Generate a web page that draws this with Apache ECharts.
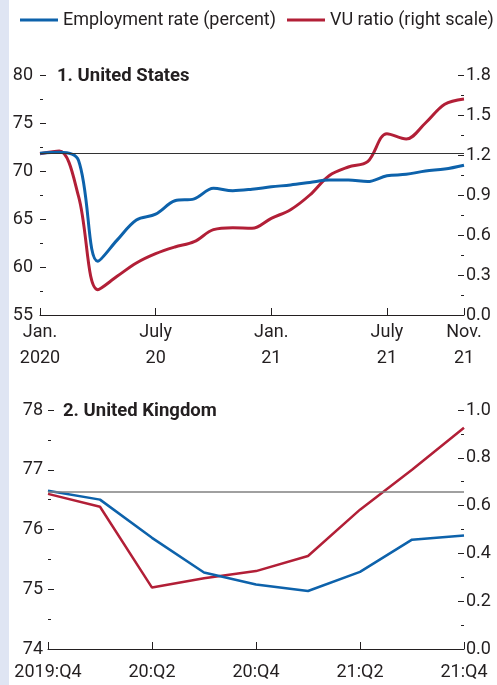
<!DOCTYPE html>
<html>
<head>
<meta charset="utf-8">
<script src="https://cdn.jsdelivr.net/npm/echarts@6/dist/echarts.min.js"></script>
<style>
  html, body { margin: 0; padding: 0; background: #fff; }
  #chart { width: 497px; height: 685px; }
</style>
</head>
<body>
<div id="chart"></div>
<script>
// US, monthly
var usMonths = ['Jan.\n2020', 'Feb.', 'Mar.', 'Apr.', 'May', 'June', 'July\n20', 'Aug.', 'Sep.', 'Oct.', 'Nov.', 'Dec.',
    'Jan.\n21', 'Feb.', 'Mar.', 'Apr.', 'May', 'June', 'July\n21', 'Aug.', 'Sep.', 'Oct.', 'Nov.\n21'];
var usTickIdx = [0, 6, 12, 18, 22];
var usEmployment = [71.85, 71.95, 71.1, 60.6, 62.8, 64.9, 65.5, 66.9, 67.1, 68.2, 67.95, 68.1,
    68.35, 68.55, 68.8, 69.05, 69.05, 68.9, 69.5, 69.65, 70.0, 70.2, 70.6];
var usVU = [1.21, 1.23, 0.89, 0.19, 0.29, 0.39, 0.46, 0.51, 0.55, 0.64, 0.655, 0.65,
    0.725, 0.79, 0.9, 1.045, 1.11, 1.15, 1.36, 1.32, 1.44, 1.58, 1.62];
var usPreCrisis = 71.9;

// UK, quarterly
var ukQuarters = ['2019:Q4', '20:Q1', '20:Q2', '20:Q3', '20:Q4', '21:Q1', '21:Q2', '21:Q3', '21:Q4'];
var ukTickIdx = [0, 2, 4, 6, 8];
var ukEmployment = [76.65, 76.5, 75.86, 75.28, 75.08, 74.97, 75.29, 75.83, 75.9];
var ukVU = [0.649, 0.595, 0.257, 0.296, 0.326, 0.389, 0.583, 0.75, 0.926];
var ukPreCrisis = 76.64;

var EMP = 'Employment rate (percent)';
var VU = 'VU ratio (right scale)';
var BLUE = '#0d62ab';
var RED = '#b21f37';
var INK = '#231f20';
var FONT = "Roboto, 'Liberation Sans', sans-serif";

function xAxisFor(gridIndex, data, ticks, labelMargin, lineHeight) {
    var pick = function (idx) { return ticks.indexOf(idx) >= 0; };
    return {
        type: 'category',
        gridIndex: gridIndex,
        data: data,
        boundaryGap: false,
        axisLine: { lineStyle: { color: INK, width: 1 } },
        axisTick: { inside: true, length: 7, interval: pick, lineStyle: { color: INK } },
        axisLabel: {
            interval: pick, margin: labelMargin, color: INK, fontFamily: FONT, fontSize: 18,
            lineHeight: lineHeight, align: 'center'
        },
        splitLine: { show: false }
    };
}

function yAxisFor(gridIndex, pos, min, max, interval, digits, margin) {
    return {
        type: 'value',
        gridIndex: gridIndex,
        position: pos,
        min: min,
        max: max,
        interval: interval,
        axisLine: { show: false },
        axisTick: { show: true, inside: true, length: 6, lineStyle: { color: INK } },
        minorTick: { show: true, splitNumber: 2, length: 3, lineStyle: { color: INK } },
        splitLine: { show: false },
        axisLabel: {
            margin: margin, color: INK, fontFamily: FONT, fontSize: 18,
            formatter: function (v) { return v.toFixed(digits); }
        }
    };
}

function legendAt(left, name) {
    return {
        left: left,
        top: 11,
        padding: 0,
        itemWidth: 38,
        itemHeight: 3,
        icon: 'rect',
        textStyle: { color: INK, fontFamily: FONT, fontSize: 18 },
        data: [name]
    };
}

var chart = echarts.init(document.getElementById('chart'), null, { renderer: 'canvas' });

var option = {
    animation: false,
    backgroundColor: '#fff',
    graphic: [{
        type: 'rect', left: 0, top: 0, shape: { width: 9, height: 685 },
        style: { fill: '#dfe5f3' }, silent: true
    }],
    legend: [legendAt(20, EMP), legendAt(287, VU)],
    title: [
        { text: '1. United States', left: 57, top: 67, padding: 0,
          textStyle: { color: INK, fontFamily: FONT, fontSize: 18.5, fontWeight: 'bold' } },
        { text: '2. United Kingdom', left: 63, top: 402, padding: 0,
          textStyle: { color: INK, fontFamily: FONT, fontSize: 18.5, fontWeight: 'bold' } }
    ],
    grid: [
        { left: 40, right: 33, top: 75, height: 240 },
        { left: 48, right: 33, top: 410, height: 239 }
    ],
    xAxis: [
        xAxisFor(0, usMonths, usTickIdx, 4, 26),
        xAxisFor(1, ukQuarters, ukTickIdx, 13, 20)
    ],
    yAxis: [
        yAxisFor(0, 'left', 55, 80, 5, 0, 7),
        yAxisFor(0, 'right', 0, 1.8, 0.3, 1, 2),
        yAxisFor(1, 'left', 74, 78, 1, 0, 5),
        yAxisFor(1, 'right', 0, 1.0, 0.2, 1, 2)
    ],
    series: [
        {
            name: EMP, type: 'line', xAxisIndex: 0, yAxisIndex: 0,
            data: usEmployment, smooth: 0.35, symbol: 'none',
            lineStyle: { color: BLUE, width: 3 }, itemStyle: { color: BLUE }, z: 3,
            markLine: {
                silent: true, symbol: 'none', label: { show: false },
                lineStyle: { color: '#333', width: 1, type: 'solid' },
                data: [{ yAxis: usPreCrisis }]
            }
        },
        {
            name: VU, type: 'line', xAxisIndex: 0, yAxisIndex: 1,
            data: usVU, smooth: 0.35, symbol: 'none',
            lineStyle: { color: RED, width: 3 }, itemStyle: { color: RED }, z: 2
        },
        {
            name: EMP, type: 'line', xAxisIndex: 1, yAxisIndex: 2,
            data: ukEmployment, symbol: 'none',
            lineStyle: { color: BLUE, width: 2.5 }, itemStyle: { color: BLUE }, z: 3,
            markLine: {
                silent: true, symbol: 'none', label: { show: false },
                lineStyle: { color: '#808080', width: 1.5, type: 'solid' },
                data: [{ yAxis: ukPreCrisis }]
            }
        },
        {
            name: VU, type: 'line', xAxisIndex: 1, yAxisIndex: 3,
            data: ukVU, symbol: 'none',
            lineStyle: { color: RED, width: 2.5 }, itemStyle: { color: RED }, z: 2
        }
    ]
};

chart.setOption(option);
</script>
</body>
</html>
